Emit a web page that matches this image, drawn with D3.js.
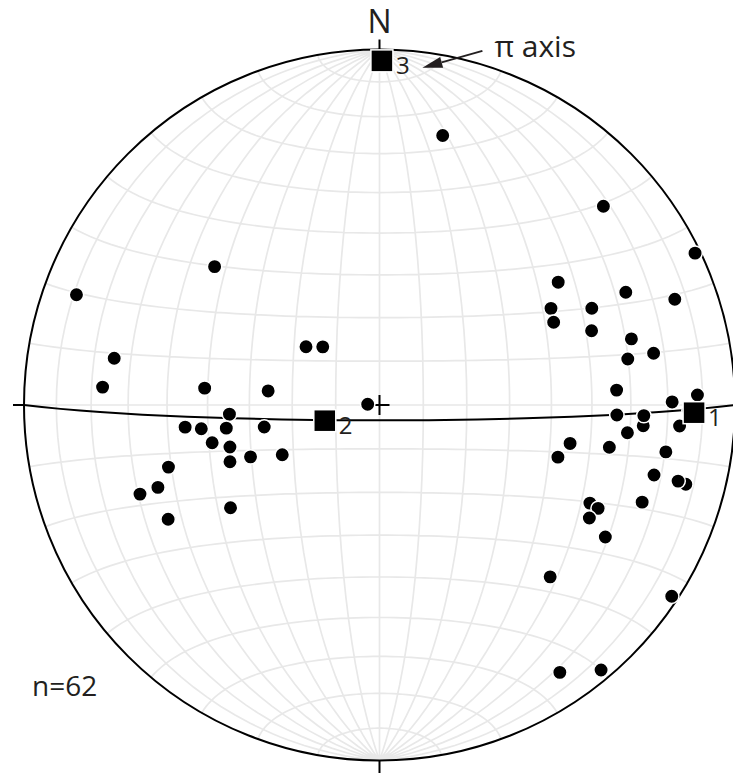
<!DOCTYPE html>
<html>
<head>
<meta charset="utf-8">
<script src="https://cdn.jsdelivr.net/npm/d3@7"></script>
<style>
  body { margin: 0; background: #fff; }
  text { font-family: "Open Sans", "Noto Sans", sans-serif; fill: #231f20; }
</style>
</head>
<body>
<div id="net"></div>
<script>
// poles to bedding, lower hemisphere (trend, plunge in degrees)
var poleTrend = [94.5, 94, 104.5, 115, 91,
    290, 310, 280, 273.7, 275.5, 277.2, 308.4, 315.7, 273.4, 266.5, 263.5, 262.4,
    261.4, 259.2, 257.3, 254.3, 248.1, 242.9, 249.2, 253.6, 249.6, 249.6, 235.4, 241.6,
    13.2, 48.4, 64.3, 55.5, 65.4, 70.3, 60.6, 65.5, 64.6, 70.7, 75.3, 79.5, 79.3,
    86.4, 89.4, 88.2, 92.4, 92.3, 96.4, 101.4, 106.3, 100.4, 99.3, 104.3, 104.3,
    110.3, 115.3, 118.3, 120.3, 135.2, 123.2, 146, 140.1];
var polePlunge = [26.5, 16.5, 12, 35, 14,
    10.2, 39.3, 25.2, 23, 49.1, 64.2, 68.5, 71.4, 87.3, 55.2, 44.2, 48.1,
    54.1, 63, 50.1, 54, 57.9, 64.9, 52.9, 38.1, 33.9, 28.9, 47.8, 32.9,
    23.2, 16.9, 1.7, 38.9, 24.8, 12.8, 43.9, 34.7, 44.9, 36.9, 27.6, 29.7, 22.6,
    33.6, 18.8, 11.5, 33.6, 26.5, 30.5, 44.5, 46.6, 34.6, 19.5, 21.4, 14.4,
    22.3, 32.5, 33.4, 27.3, 32.4, 2.0, 10.2, 3.2];

// eigenvectors 1, 2, 3 (3 = pi axis)
var eigenLabel = ["1", "2", "3"];
var eigenTrend = [91.4, 254, 0.4];
var eigenPlunge = [12.5, 77, 3.6];

// best-fit girdle (pi circle)
var girdleDipDir = 180;
var girdleDip = 86.5;

var svgWidth = 733;
var svgHeight = 773;
var cx = 379.5, cy = 405, R = 355.5;

var svg = d3.select("#net")
    .append("svg")
    .attr("width", svgWidth)
    .attr("height", svgHeight);

// Schmidt net = equatorial Lambert azimuthal equal-area
var projection = d3.geoAzimuthalEqualArea()
    .rotate([0, 0])
    .scale(R / Math.SQRT2)
    .translate([cx, cy])
    .clipAngle(90)
    .precision(0.1);
var path = d3.geoPath(projection);

var rad = Math.PI / 180;
// trend/plunge -> lon/lat on the net sphere (down = centre, north = top)
function toLonLat(trend, plunge) {
    var t = trend * rad, p = plunge * rad;
    var n = Math.cos(p) * Math.cos(t);
    var e = Math.cos(p) * Math.sin(t);
    var d = Math.sin(p);
    return [Math.atan2(e, d) / rad, Math.asin(Math.max(-1, Math.min(1, n))) / rad];
}

// grid
var graticule = d3.geoGraticule()
    .extent([[-180, -90], [180, 90]])
    .step([10, 10]);
svg.append("path")
    .datum(graticule())
    .attr("d", path)
    .attr("fill", "none")
    .attr("stroke", "#e8e8e8")
    .attr("stroke-width", 1.7);

// primitive
svg.append("circle")
    .attr("cx", cx)
    .attr("cy", cy)
    .attr("r", R)
    .attr("fill", "none")
    .attr("stroke", "#000")
    .attr("stroke-width", 2);

// N S E W ticks
var ticks = [[0, -1, 10], [0, 1, 14], [-1, 0, 11], [1, 0, 11]];
svg.append("g").selectAll("line")
    .data(ticks)
    .enter()
    .append("line")
    .attr("x1", d => cx + d[0] * R)
    .attr("y1", d => cy + d[1] * R)
    .attr("x2", d => cx + d[0] * (R + d[2]))
    .attr("y2", d => cy + d[1] * (R + d[2]))
    .attr("stroke", "#000")
    .attr("stroke-width", 2);

// girdle great circle through strike points and the dip line
var strike1 = toLonLat(girdleDipDir - 90 + 0.0001, 0.0001);
var dipPt = toLonLat(girdleDipDir, girdleDip);
var strike2 = toLonLat(girdleDipDir + 90 - 0.0001, 0.0001);
svg.append("path")
    .datum({type: "LineString", coordinates: [strike1, dipPt, strike2]})
    .attr("d", path)
    .attr("fill", "none")
    .attr("stroke", "#000")
    .attr("stroke-width", 2);

// centre cross
var c0 = projection([0, 0]);
svg.append("path")
    .attr("d", `M${c0[0] - 10},${c0[1]}H${c0[0] + 10}M${c0[0]},${c0[1] - 10}V${c0[1] + 10}`)
    .attr("stroke", "#000")
    .attr("stroke-width", 2);

// poles
var poles = poleTrend.map((t, i) => projection(toLonLat(t, polePlunge[i])));
svg.append("g").selectAll("circle")
    .data(poles)
    .enter()
    .append("circle")
    .attr("cx", d => d[0])
    .attr("cy", d => d[1])
    .attr("r", 7.2)
    .attr("fill", "#000")
    .attr("stroke", "#fff")
    .attr("stroke-width", 1.5);

// eigenvectors
var eig = eigenTrend.map((t, i) => projection(toLonLat(t, eigenPlunge[i])));
var sq = 22;
svg.append("g").selectAll("rect")
    .data(eig)
    .enter()
    .append("rect")
    .attr("x", d => d[0] - sq / 2)
    .attr("y", d => d[1] - sq / 2)
    .attr("width", sq)
    .attr("height", sq)
    .attr("fill", "#000")
    .attr("stroke", "#fff")
    .attr("stroke-width", 1.5);

svg.append("g").selectAll("text")
    .data(eig)
    .enter()
    .append("text")
    .attr("x", d => d[0] + 14)
    .attr("y", d => d[1] + 13.5)
    .style("font-size", "24px")
    .text((d, i) => eigenLabel[i]);

// N label
svg.append("text")
    .attr("x", cx)
    .attr("y", cy - R - 17)
    .attr("text-anchor", "middle")
    .style("font-size", "32px")
    .text("N");

// pi axis annotation
var p3 = eig[2];
var tip = [p3[0] + 40.5, p3[1] + 7];
var tail = [p3[0] + 100.5, p3[1] - 10];
var ang = Math.atan2(tip[1] - tail[1], tip[0] - tail[0]);
var headL = 20, headW = 5.5;
var bx = tip[0] - headL * Math.cos(ang), by = tip[1] - headL * Math.sin(ang);
svg.append("line")
    .attr("x1", tail[0])
    .attr("y1", tail[1])
    .attr("x2", bx)
    .attr("y2", by)
    .attr("stroke", "#231f20")
    .attr("stroke-width", 2);
svg.append("path")
    .attr("d", `M${tip[0]},${tip[1]}L${bx - headW * Math.sin(ang)},${by + headW * Math.cos(ang)}` +
        `L${bx + headW * Math.sin(ang)},${by - headW * Math.cos(ang)}Z`)
    .attr("fill", "#231f20");
svg.append("text")
    .attr("x", p3[0] + 112.5)
    .attr("y", p3[1] - 4)
    .style("font-size", "30px")
    .text("\u03c0 axis");

// sample size
svg.append("text")
    .attr("x", 32)
    .attr("y", 696)
    .style("font-size", "28px")
    .text("n=" + poleTrend.length);
</script>
</body>
</html>
